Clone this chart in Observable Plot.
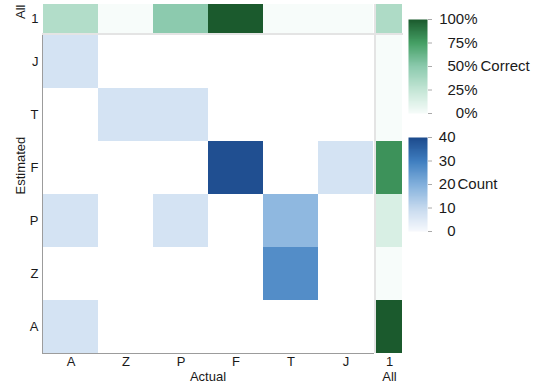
<!DOCTYPE html>
<html><head><meta charset="utf-8">
<script src="https://cdn.jsdelivr.net/npm/d3@7"></script>
<script src="https://cdn.jsdelivr.net/npm/@observablehq/plot@0.6"></script>
<style>
body{margin:0;background:#fff;}
#chart{position:relative;width:540px;height:388px;overflow:hidden;}
#chart svg{position:absolute;left:0;top:0;}
.sep{position:absolute;background:#e4e4e4;}
</style></head><body><div id="chart"></div>
<script>
// ---- data ----
const actual = ["A","Z","P","F","T","J"];
const estimated = ["J","T","F","P","Z","A"];
// non-empty cells of the confusion matrix
const cellActual    = ["A","Z","P","F","J","A","P","T","T","A"];
const cellEstimated = ["J","T","T","F","F","P","P","P","Z","A"];
const cellCount     = [7, 7, 7, 39, 7, 7, 7, 18, 27, 7];
// % correct per actual class (top "All" row)
const correctByActual = [33, 0, 50, 100, 0, 0];
// % correct per estimated class (right "All" column)
const correctByEstimated = [0, 0, 80, 15, 0, 100];
const correctAll = [35];
const correctTicks = [0, 25, 50, 75, 100];
const countTicks = [0, 10, 20, 30, 40];

// ---- build tables ----
const cells = cellCount.map((c, i) => ({actual: cellActual[i], estimated: cellEstimated[i], count: c}));
const topRow = actual.map((a, i) => ({actual: a, pct: correctByActual[i]}));
const rightCol = estimated.map((e, i) => ({estimated: e, pct: correctByEstimated[i]}));
const corner = correctAll.map(p => ({pct: p}));

const W = 540, H = 388;
const L = 42, R = 373, T = 35, B = 353;      // main grid
const SL = 376, SR = 402, TT = 4, TB = 33;   // side column / top row
const FF = "Liberation Sans, Arial, Helvetica, sans-serif";
const ink = "#1a1a1a";
const style = {background: "transparent", overflow: "visible", fontFamily: FF};
const tx = {fontFamily: FF, fontSize: 13, fill: ink};
const tl = {fontFamily: FF, fontSize: 15, fill: ink};

const greenColor = {type: "linear", domain: [0, 25, 50, 75, 100], range: ["#f7fcfa", "#c4e6d6", "#8ccaae", "#45a065", "#1b5a2d"]};
const blueColor = {type: "linear", domain: [0, 10, 20, 30, 40], range: ["#f7f9fd", "#c5d9ee", "#82b0dc", "#3f7ec0", "#1c4a8c"]};

const chart = document.getElementById("chart");

// main heatmap
chart.append(Plot.plot({
  width: W, height: H, marginLeft: L, marginRight: W - R, marginTop: T, marginBottom: H - B, style,
  x: {type: "band", domain: actual, padding: 0},
  y: {type: "band", domain: estimated, padding: 0},
  color: blueColor,
  marks: [
    Plot.cell(cells, {x: "actual", y: "estimated", fill: "count", inset: 0}),
    Plot.frame({anchor: "left", stroke: "#9c9c9c"}),
    Plot.frame({anchor: "bottom", stroke: "#9c9c9c"}),
    Plot.axisX({anchor: "bottom", tickSize: 0, tickPadding: 3, label: null, ...tx}),
    Plot.axisY({anchor: "left", tickSize: 0, tickPadding: 4, label: null, ...tx}),
    Plot.text(["Estimated"], {text: d => d, frameAnchor: "left", dx: -22, rotate: -90, ...tx}),
    Plot.text(["Actual"], {text: d => d, frameAnchor: "bottom", dy: 27.5, ...tx})
  ]
}));

// top "All" row
chart.append(Plot.plot({
  width: W, height: H, marginLeft: L, marginRight: W - R, marginTop: TT, marginBottom: H - TB, style,
  x: {type: "band", domain: actual, padding: 0, axis: null},
  y: {type: "band", domain: ["1"], padding: 0},
  color: greenColor,
  marks: [
    Plot.cell(topRow, {x: "actual", y: () => "1", fill: "pct", inset: 0}),
    Plot.axisY({anchor: "left", tickSize: 0, tickPadding: 4, label: null, ...tx}),
    Plot.text(["All"], {text: d => d, frameAnchor: "left", dx: -22, rotate: -90, ...tx})
  ]
}));

// right "All" column
chart.append(Plot.plot({
  width: W, height: H, marginLeft: SL, marginRight: W - SR, marginTop: T, marginBottom: H - B, style,
  x: {type: "band", domain: ["1"], padding: 0},
  y: {type: "band", domain: estimated, padding: 0, axis: null},
  color: greenColor,
  marks: [
    Plot.cell(rightCol, {x: () => "1", y: "estimated", fill: "pct", inset: 0}),
    Plot.axisX({anchor: "bottom", tickSize: 0, tickPadding: 3, label: null, ...tx}),
    Plot.text(["All"], {text: d => d, frameAnchor: "bottom", dy: 27.5, ...tx})
  ]
}));

// corner cell
chart.append(Plot.plot({
  width: W, height: H, marginLeft: SL, marginRight: W - SR, marginTop: TT, marginBottom: H - TB, style,
  x: {type: "band", domain: ["1"], padding: 0, axis: null},
  y: {type: "band", domain: ["1"], padding: 0, axis: null},
  color: greenColor,
  marks: [Plot.cell(corner, {x: () => "1", y: () => "1", fill: "pct", inset: 0})]
}));

// legend: Correct
chart.append(Plot.plot({
  width: W, height: H, marginLeft: 408, marginRight: W - 427, marginTop: 19, marginBottom: H - 113, style,
  x: {domain: [0, 1], axis: null},
  y: {domain: [0, 100]},
  color: greenColor,
  marks: [
    Plot.raster({x1: 0, x2: 1, y1: 0, y2: 100, width: 1, height: 200, fill: (x, y) => y}),
    Plot.axisY(correctTicks, {anchor: "right", tickSize: 4, tickPadding: 46, textAnchor: "end", tickFormat: d => d + "%", stroke: "#aaa", label: null, ...tl}),
    Plot.text(["Correct"], {text: d => d, frameAnchor: "right", dx: 53, textAnchor: "start", ...tl})
  ]
}));

// legend: Count
chart.append(Plot.plot({
  width: W, height: H, marginLeft: 408, marginRight: W - 427, marginTop: 137, marginBottom: H - 231, style,
  x: {domain: [0, 1], axis: null},
  y: {domain: [0, 40]},
  color: blueColor,
  marks: [
    Plot.raster({x1: 0, x2: 1, y1: 0, y2: 40, width: 1, height: 200, fill: (x, y) => y}),
    Plot.axisY(countTicks, {anchor: "right", tickSize: 4, tickPadding: 24, textAnchor: "end", stroke: "#aaa", label: null, ...tl}),
    Plot.text(["Count"], {text: d => d, frameAnchor: "right", dx: 30, textAnchor: "start", ...tl})
  ]
}));

// light separators between the total row/column and the grid
const h = document.createElement("div");
h.className = "sep"; Object.assign(h.style, {left: L + "px", top: (TB) + "px", width: (SR + 1 - L) + "px", height: "2px"});
const v = document.createElement("div");
v.className = "sep"; Object.assign(v.style, {left: (R + 0.5) + "px", top: TT + "px", width: "2px", height: (B - TT) + "px"});
chart.append(h, v);
</script></body></html>
